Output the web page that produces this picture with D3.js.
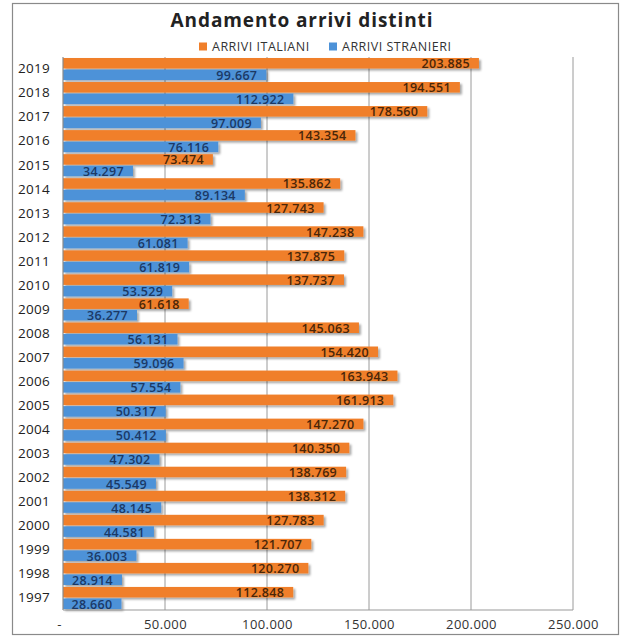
<!DOCTYPE html>
<html>
<head>
<meta charset="utf-8">
<script src="https://cdn.jsdelivr.net/npm/d3@7"></script>
<style>
  html, body { margin: 0; padding: 0; background: #fff; }
  svg { display: block; font-family: "Open Sans", "Liberation Sans", sans-serif; }
</style>
</head>
<body>
<svg id="chart" width="620" height="637"></svg>
<script>
// Arrivi distinti per anno (dal più recente al meno recente)
const years = ["2019","2018","2017","2016","2015","2014","2013","2012","2011","2010","2009","2008","2007","2006","2005","2004","2003","2002","2001","2000","1999","1998","1997"];
const arriviItaliani = [203885,194551,178560,143354,73474,135862,127743,147238,137875,137737,61618,145063,154420,163943,161913,147270,140350,138769,138312,127783,121707,120270,112848];
const arriviStranieri = [99667,112922,97009,76116,34297,89134,72313,61081,61819,53529,36277,56131,59096,57554,50317,50412,47302,45549,48145,44581,36003,28914,28660];
const xTicks = [0, 50000, 100000, 150000, 200000, 250000];
const seriesNames = ["ARRIVI ITALIANI", "ARRIVI STRANIERI"];
const seriesColors = ["#f07f2a", "#4d92d8"];
const labelColors = ["#4a2608", "#1b3966"];

const svg = d3.select("#chart");
const fmt = v => v === 0 ? "-" : d3.format(",")(v).replace(/,/g, ".");

// drop shadow for bars
const defs = svg.append("defs");
const f = defs.append("filter").attr("id", "shadow").attr("x", "-5%").attr("y", "-30%").attr("width", "115%").attr("height", "180%");
f.append("feDropShadow").attr("dx", 2).attr("dy", 2).attr("stdDeviation", 1.3)
  .attr("flood-color", "#000").attr("flood-opacity", 0.35);

// outer frame
svg.append("rect").attr("x", 12.5).attr("y", 3.5).attr("width", 606).attr("height", 631)
  .attr("fill", "#fff").attr("stroke", "#8a8a8a").attr("stroke-width", 1.2);

const x0 = 63, x1 = 573, yTop = 57, yBot = 610;
const x = d3.scaleLinear().domain([0, 250000]).range([x0, x1]);
const y = d3.scaleBand().domain(years).range([yTop, yBot]).paddingInner(0.04).paddingOuter(0.02);
const sub = d3.scaleBand().domain([0, 1]).range([0, y.bandwidth()]);

// title
svg.append("text").attr("x", 302).attr("y", 27).attr("text-anchor", "middle")
  .attr("font-size", 19).attr("font-weight", 700).attr("fill", "#222")
  .attr("letter-spacing", 0.9)
  .text("Andamento arrivi distinti");

// legend
const legendItems = [{ x: 199 }, { x: 329 }];
legendItems.forEach((it, i) => {
  svg.append("rect").attr("x", it.x).attr("y", 42.5).attr("width", 8).attr("height", 8).attr("fill", seriesColors[i]);
  svg.append("text").attr("x", it.x + 13).attr("y", 51).attr("font-size", 12.5).attr("fill", "#333")
    .attr("letter-spacing", 0.5)
    .text(seriesNames[i]);
});

// gridlines
svg.append("g").selectAll("line").data(xTicks.filter(t => t > 0)).join("line")
  .attr("x1", d => x(d)).attr("x2", d => x(d))
  .attr("y1", yTop).attr("y2", yBot)
  .attr("stroke", "#9a9a9a").attr("stroke-width", 1);

// x axis labels
const xAxis = d3.axisBottom(x).tickValues(xTicks).tickFormat(fmt).tickSize(0).tickPadding(0);
const gx = svg.append("g").attr("transform", `translate(0,${yBot + 11})`).call(xAxis);
gx.select(".domain").remove();
gx.selectAll("text").attr("font-size", 13).attr("fill", "#333")
  .attr("letter-spacing", 0.4)
  .attr("font-family", "'Open Sans', sans-serif").attr("dy", "0.6em");
gx.selectAll(".tick").filter(d => d === 0).select("text").attr("dx", -4);

// y axis labels
const yAxis = d3.axisLeft(y).tickSize(0).tickPadding(13);
const gy = svg.append("g").attr("transform", `translate(${x0},0)`).call(yAxis);
gy.select(".domain").remove();
gy.selectAll("text").attr("font-size", 13.5).attr("fill", "#222")
  .attr("letter-spacing", 0.3)
  .attr("font-family", "'Open Sans', sans-serif");

// bars
const rows = years.map((yr, i) => ({ year: yr, values: [arriviItaliani[i], arriviStranieri[i]] }));
const gRows = svg.append("g").selectAll("g").data(rows).join("g")
  .attr("transform", d => `translate(0,${y(d.year)})`);

gRows.selectAll("rect").data(d => d.values.map((v, k) => ({ v, k }))).join("rect")
  .attr("x", x(0))
  .attr("y", d => sub(d.k) + 0.5)
  .attr("width", d => x(d.v) - x(0))
  .attr("height", sub.bandwidth() - 1)
  .attr("fill", d => seriesColors[d.k])
  .attr("filter", "url(#shadow)");

// axis lines on top of bars
svg.append("line").attr("x1", x0).attr("x2", x0).attr("y1", yTop).attr("y2", yBot)
  .attr("stroke", "#8a8a8a").attr("stroke-width", 1.2);
svg.append("line").attr("x1", x0).attr("x2", x1).attr("y1", yBot).attr("y2", yBot)
  .attr("stroke", "#9a9a9a").attr("stroke-width", 1.2);

// value labels at the inside end of each bar
gRows.selectAll("text.val").data(d => d.values.map((v, k) => ({ v, k }))).join("text")
  .attr("class", "val")
  .attr("y", d => sub(d.k) + sub.bandwidth() / 2 + 0.5)
  .attr("dy", "0.36em")
  .attr("text-anchor", "end")
  .attr("font-size", 12.5)
  .attr("font-weight", 600)
  .attr("letter-spacing", 0.3)
  .attr("fill", d => labelColors[d.k])
  .text(d => fmt(d.v))
  .each(function (d) {
    const w = this.getComputedTextLength();
    const end = Math.max(x(d.v) - 9, x(0) + 4 + w);
    d3.select(this).attr("x", end);
  });
</script>
</body>
</html>
